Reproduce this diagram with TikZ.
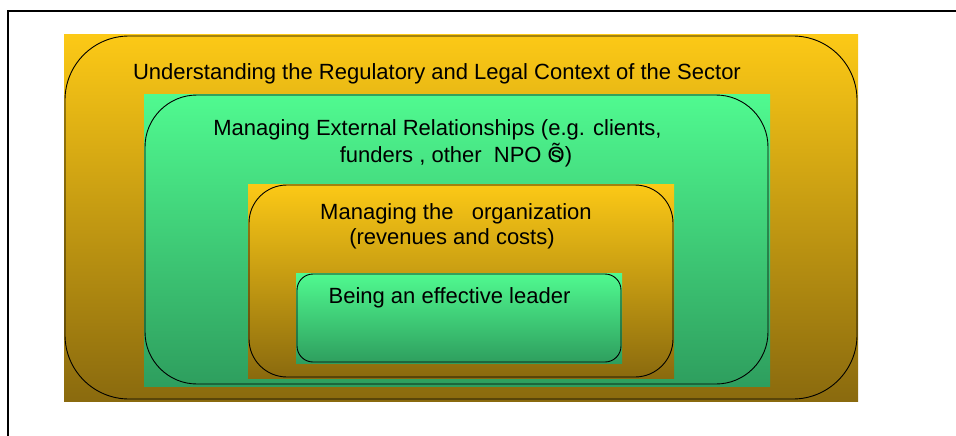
\documentclass[tikz,border=0pt]{standalone}
\usepackage{fontspec}
\setmainfont{Liberation Sans}
\usepackage{tikz}
\usetikzlibrary{positioning}
\definecolor{goldtop}{RGB}{252,201,22}
\definecolor{goldbot}{RGB}{138,106,14}
\definecolor{mintop}{RGB}{80,250,144}
\definecolor{minbot}{RGB}{46,158,94}
\newcommand{\npos}{\ooalign{\~{O}\cr\hfil s\hfil}}

\begin{document}
\begin{tikzpicture}[x=1pt, y=-1pt,
  rim/.style={draw=black, line width=0.9pt},
  label/.style={anchor=base, inner sep=0pt, font=\fontsize{22}{26}\selectfont}]
  \useasboundingbox (0,0) rectangle (956,436);
  % Frame
  \draw[line width=2pt] (8,436) -- (8,11) -- (956,11);
  % Regulatory layer
  \shade[top color=goldtop, bottom color=goldbot] (64,35) rectangle (858,401);
  \draw[rim, rounded corners=64pt] (65,36) rectangle (857,399);
  \node[label] (sector) at (437,79) {Understanding the Regulatory and Legal Context of the Sector};
  % Relationships layer
  \shade[top color=mintop, bottom color=minbot] (144,94) rectangle (770,386);
  \draw[rim, rounded corners=52pt] (145,95) rectangle (768,384);
  \node[label] (ext) at (437.5,135) {Managing External Relationships (e.g. clients,};
  \node[label] (funders) at (456,162) {funders , other\ \ NPO \npos)};
  % Organization layer
  \shade[top color=goldtop, bottom color=goldbot] (248,184) rectangle (674,378);
  \draw[rim, rounded corners=38pt] (249,185) rectangle (673,377);
  \node[label] (org) at (456,219) {Managing the\ \ \ organization};
  \node[label] (costs) at (452,244) {(revenues and costs)};
  % Leader layer
  \shade[top color=mintop, bottom color=minbot] (296,273) rectangle (622,363);
  \draw[rim, rounded corners=16pt] (297,274) rectangle (621,362);
  \node[label] (leader) at (449.5,303) {Being an effective leader};
\end{tikzpicture}
\end{document}
